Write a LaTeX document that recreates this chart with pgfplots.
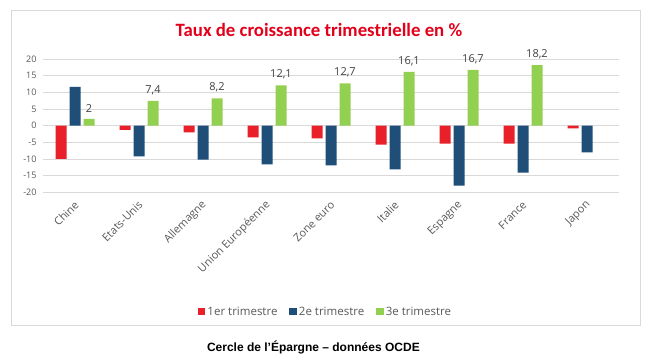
\documentclass[border=0pt]{standalone}
\usepackage{fontspec}
\setmainfont{Carlito}
\newfontfamily\uifont{Open Sans}
\newfontfamily\capfont{Liberation Sans}
\usepackage{pgfplots}
\pgfplotsset{compat=1.18}
\definecolor{cred}{HTML}{E8202A}
\definecolor{cblue}{HTML}{1F4E79}
\definecolor{cgreen}{HTML}{92D050}
\definecolor{ctitle}{HTML}{E3001B}
\definecolor{cgrid}{HTML}{D9D9D9}
\definecolor{ctext}{HTML}{595959}
\definecolor{clab}{HTML}{404040}
\begin{document}
\begin{tikzpicture}
\path[fill=white] (0pt,0pt) rectangle (649pt,364pt);
\draw[cgrid, line width=0.8pt] (11.5pt,353.5pt) rectangle (640pt,38.5pt);
\node[text=ctitle, font=\fontsize{18.8}{22}\selectfont\bfseries] at (319pt,334pt) {Taux de croissance trimestrielle en \%};
\node[font=\capfont\fontsize{12}{14}\selectfont\bfseries] at (313.4pt,16.3pt) {Cercle de l’Épargne – données OCDE};
\begin{axis}[
  at={(43pt,171.7pt)}, anchor=south west,
  scale only axis, width=576pt, height=133.3pt,
  ybar=3pt, bar width=11pt,
  xmin=-0.5, xmax=8.5, ymin=-20, ymax=20,
  xtick={0,...,8},
  xticklabels={Chine,Etats-Unis,Allemagne,Union Européenne,Zone euro,Italie,Espagne,France,Japon},
  ytick={-20,-15,...,20},
  ymajorgrids, grid style={cgrid, line width=0.8pt},
  axis line style={draw=none},
  major tick style={draw=none},
  yticklabel style={font=\uifont\fontsize{9}{11}\selectfont, text=ctext, xshift=-3pt},
  /pgf/number format/assume math mode=true,
  xticklabel style={font=\uifont\fontsize{11}{13}\selectfont, text=ctext, xshift=4pt, yshift=-4pt, anchor=east, rotate=45},
  clip=false,
  legend style={at={(0.4905,-0.896)}, anchor=center, draw=none, fill=none,
    font=\uifont\fontsize{11.5}{13}\selectfont, text=ctext, legend columns=3,
    /tikz/every even column/.append style={column sep=10pt}},
  legend cell align=left,
  legend image code/.code={\fill[#1] (0pt,-3.7pt) rectangle (7.5pt,3.7pt);},
]
\addplot[fill=cred, draw=none] coordinates {(0,-10) (1,-1.3) (2,-2.0) (3,-3.5) (4,-3.8) (5,-5.7) (6,-5.4) (7,-5.4) (8,-0.8)};
\addplot[fill=cblue, draw=none] coordinates {(0,11.6) (1,-9.2) (2,-10.2) (3,-11.6) (4,-11.9) (5,-13.1) (6,-18.0) (7,-14.1) (8,-8.0)};
\addplot[fill=cgreen, draw=none, nodes near coords,
  every node near coord/.append style={font=\uifont\fontsize{11}{13}\selectfont, text=clab, yshift=3pt},
  nodes near coords style={/pgf/number format/.cd, use comma, fixed, precision=1}]
  coordinates {(0,2) (1,7.4) (2,8.2) (3,12.1) (4,12.7) (5,16.1) (6,16.7) (7,18.2)};
\legend{1er trimestre, 2e trimestre, 3e trimestre}
\end{axis}
\end{tikzpicture}
\end{document}
